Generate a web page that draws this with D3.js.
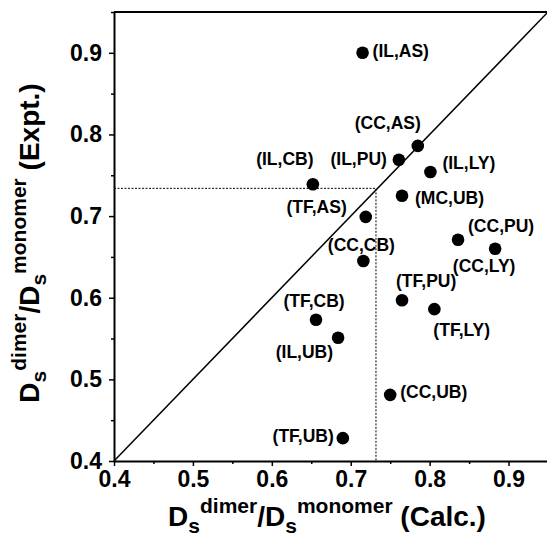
<!DOCTYPE html>
<html>
<head>
<meta charset="utf-8">
<script src="https://cdn.jsdelivr.net/npm/d3@7"></script>
<style>
  body { margin: 0; background: #fff; }
  text { font-family: "Liberation Sans", Arial, sans-serif; font-weight: bold; fill: #000; }
</style>
</head>
<body>
<svg id="chart"></svg>
<script>
// pairs (protein, partner)
const pairs = ['(IL,AS)', '(CC,AS)', '(IL,PU)', '(IL,LY)', '(IL,CB)', '(MC,UB)', '(TF,AS)', '(CC,PU)',
  '(CC,LY)', '(CC,CB)', '(TF,PU)', '(TF,LY)', '(TF,CB)', '(IL,UB)', '(CC,UB)', '(TF,UB)'];
const calc = [0.715, 0.785, 0.761, 0.801, 0.652, 0.765, 0.719, 0.836,
  0.883, 0.716, 0.765, 0.806, 0.656, 0.684, 0.750, 0.690];
const expt = [0.900, 0.786, 0.769, 0.754, 0.739, 0.725, 0.699, 0.671,
  0.660, 0.645, 0.597, 0.586, 0.573, 0.551, 0.481, 0.428];
const majorTicks = [0.4, 0.5, 0.6, 0.7, 0.8, 0.9];
const minorTicks = [0.45, 0.55, 0.65, 0.75, 0.85, 0.95];
const cutoff = [0.732, 0.734]; // dotted guide (calc, expt)

// label placement: anchor, dx, dy relative to the dot
const labelPos = {
  '(IL,AS)': ['start', 10, -2], '(CC,AS)': ['middle', -30, -23], '(IL,PU)': ['end', -12, -1],
  '(IL,LY)': ['start', 12, -9], '(IL,CB)': ['middle', -28, -25], '(MC,UB)': ['start', 13, 2],
  '(TF,AS)': ['end', -19, -10], '(CC,PU)': ['start', 10, -14], '(CC,LY)': ['middle', -11, 17],
  '(CC,CB)': ['middle', -2, -16], '(TF,PU)': ['start', -6, -19], '(TF,LY)': ['start', -1, 21],
  '(TF,CB)': ['middle', -2, -19], '(IL,UB)': ['end', -5, 14], '(CC,UB)': ['start', 10, -3],
  '(TF,UB)': ['end', -9, -2]
};

const data = pairs.map((p, i) => ({ name: p, x: calc[i], y: expt[i] }));

const width = 547, height = 539;
const svg = d3.select('#chart').attr('width', width).attr('height', height);

const x = d3.scaleLinear().domain([0.4, 0.95]).range([114, 548]);
const y = d3.scaleLinear().domain([0.4, 0.95]).range([461, 12]);

// frame (top and right)
svg.append('path')
  .attr('d', `M${x(0.4)},${y(0.95)}H${x(0.95)}V${y(0.4)}`)
  .attr('fill', 'none').attr('stroke', '#000').attr('stroke-width', 2);

// minor ticks
svg.append('g').attr('transform', `translate(0,${y(0.4)})`)
  .call(d3.axisBottom(x).tickValues(minorTicks).tickSize(3).tickFormat(''))
  .call(g => g.select('.domain').remove());
svg.append('g').attr('transform', `translate(${x(0.4)},0)`)
  .call(d3.axisLeft(y).tickValues(minorTicks).tickSize(3).tickFormat(''))
  .call(g => g.select('.domain').remove());

// major axes
const xAxis = svg.append('g').attr('transform', `translate(0,${y(0.4)})`)
  .call(d3.axisBottom(x).tickValues(majorTicks).tickSize(5).tickPadding(5).tickSizeOuter(0).tickFormat(d3.format('.1f')));
const yAxis = svg.append('g').attr('transform', `translate(${x(0.4)},0)`)
  .call(d3.axisLeft(y).tickValues(majorTicks).tickSize(5).tickPadding(7).tickSizeOuter(0).tickFormat(d3.format('.1f')));
[xAxis, yAxis].forEach(g => {
  g.select('.domain').attr('stroke-width', 2);
  g.selectAll('.tick text').style('font-size', '23px').style('font-family', '"Liberation Sans", Arial, sans-serif').style('font-weight', 'bold');
});
svg.selectAll('.tick line').attr('stroke-width', 1.5);

// y = x line
svg.append('line')
  .attr('x1', x(0.4)).attr('y1', y(0.4))
  .attr('x2', x(0.95)).attr('y2', y(0.95))
  .attr('stroke', '#000').attr('stroke-width', 1.5);

// dotted guide lines
svg.append('path')
  .attr('d', `M${x(0.4)},${y(cutoff[1])}H${x(cutoff[0])}V${y(0.4)}`)
  .attr('fill', 'none').attr('stroke', '#000').attr('stroke-width', 1)
  .attr('stroke-dasharray', '2,1.5');

// points
svg.append('g').selectAll('circle')
  .data(data).join('circle')
  .attr('cx', d => x(d.x)).attr('cy', d => y(d.y))
  .attr('r', 6.3).attr('fill', '#000');

svg.append('g').selectAll('text')
  .data(data).join('text')
  .attr('x', d => x(d.x) + labelPos[d.name][1])
  .attr('y', d => y(d.y) + labelPos[d.name][2])
  .attr('text-anchor', d => labelPos[d.name][0])
  .attr('dominant-baseline', 'central')
  .style('font-size', '17.5px')
  .text(d => d.name);

// axis titles with sub/superscripts
function title(sel, tail) {
  const big = 28, small = 21;
  sel.append('tspan').style('font-size', big + 'px').text('D');
  sel.append('tspan').style('font-size', small + 'px').attr('dy', 7).text('s');
  sel.append('tspan').style('font-size', small + 'px').attr('dy', -20).text('dimer');
  sel.append('tspan').style('font-size', big + 'px').attr('dy', 13).text('/D');
  sel.append('tspan').style('font-size', small + 'px').attr('dy', 7).text('s');
  sel.append('tspan').style('font-size', small + 'px').attr('dy', -20).text('monomer');
  sel.append('tspan').style('font-size', big + 'px').attr('dy', 13).text('\u00a0' + tail);
}

svg.append('text')
  .attr('x', 327).attr('y', 526)
  .attr('text-anchor', 'middle')
  .call(title, '(Calc.)');

svg.append('text')
  .attr('transform', 'translate(39,243) rotate(-90)')
  .attr('text-anchor', 'middle')
  .call(title, '(Expt.)');
</script>
</body>
</html>
